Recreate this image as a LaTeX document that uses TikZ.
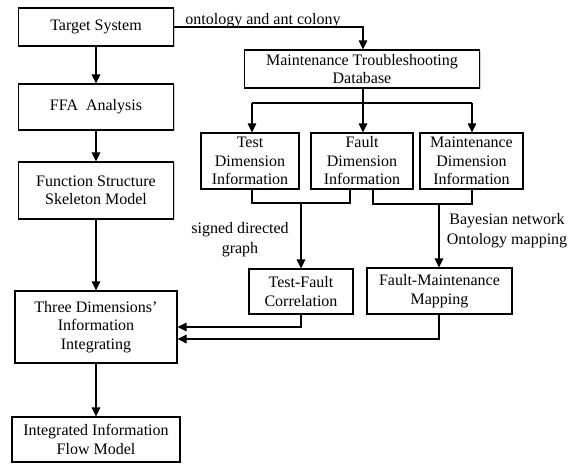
\documentclass[tikz,border=0pt]{standalone}
\usepackage{fontspec}
\setmainfont{Liberation Serif}
\usetikzlibrary{arrows.meta,shadows}

\tikzset{
  box/.style={draw, line width=1.1pt, fill=white, inner sep=0pt, align=center,
    font=\fontsize{16}{18.5}\selectfont,
    drop shadow={shadow xshift=1.2pt, shadow yshift=-1.2pt, fill=black!30, opacity=0.6}},
  link/.style={line width=1.1pt},
  flow/.style={link, -{Triangle[length=9pt,width=8.5pt]}},
  note/.style={align=center, inner sep=0pt, font=\fontsize{16}{20}\selectfont}
}

\begin{document}
\begin{tikzpicture}[x=1pt,y=-1pt]
  \useasboundingbox (0,0) rectangle (580,464);

  % left column: model construction
  \node[box, minimum width=155pt, minimum height=38pt] (tgt) at (96,27) {Target System};
  \node[box, minimum width=155pt, minimum height=46pt] (ffa) at (96,107) {FFA\ \ Analysis};
  \node[box, minimum width=155pt, minimum height=57pt] (fss) at (96,190.5) {Function Structure\\Skeleton Model};
  \node[box, minimum width=162pt, minimum height=72pt] (tdi) at (96,327) {Three Dimensions'\\Information\\Integrating};
  \node[box, minimum width=168pt, minimum height=45pt] (iifm) at (96,439.5) {Integrated Information\\Flow Model};

  % right side: troubleshooting database and its three dimensions
  \node[box, minimum width=235pt, minimum height=38pt] (db) at (362,69) {Maintenance Troubleshooting\\Database};
  \node[box, minimum width=98pt, minimum height=56pt] (test) at (250,161) {Test\\Dimension\\Information};
  \node[box, minimum width=102pt, minimum height=56pt] (fault) at (362,161) {Fault\\Dimension\\Information};
  \node[box, minimum width=103pt, minimum height=56pt] (maint) at (471.5,161) {Maintenance\\Dimension\\Information};
  \node[box, minimum width=104pt, minimum height=45pt] (tfc) at (301,291.5) {Test-Fault\\Correlation};
  \node[box, minimum width=145pt, minimum height=46pt] (fmm) at (439.5,291) {Fault-Maintenance\\Mapping};

  % method labels
  \node[note] (lab1) at (263,21) {ontology and ant colony};
  \node[note] (lab2) at (240,240) {signed directed\\graph};
  \node[note] (lab3) at (507,231) {Bayesian network\\Ontology mapping};

  % branching points
  \coordinate (split) at (363,103);
  \coordinate (tfj) at (301,203);
  \coordinate (fmj) at (439,204);

  % left column flow
  \draw[flow] (tgt) -- (ffa);
  \draw[flow] (ffa) -- (fss);
  \draw[flow] (fss) -- (tdi);
  \draw[flow] (tdi) -- (iifm);

  % target system to database
  \draw[flow] (tgt.east) -| (db.north -| split);

  % database split into three dimensions
  \draw[link] (db.south -| split) -- (split);
  \draw[link] (split -| 252,0) -- (split -| 472,0);
  \draw[flow] (split -| 252,0) -- (test.north -| 252,0);
  \draw[flow] (split) -- (fault.north -| split);
  \draw[flow] (split -| 472,0) -- (maint.north -| 472,0);

  % test + fault to correlation
  \draw[link] (test.south -| 252,0) |- (tfj) -| (fault.south -| 350,0);
  \draw[flow] (tfj) -- (tfc.north -| tfj);

  % fault + maintenance to mapping
  \draw[link] (fault.south -| 373,0) |- (fmj) -| (maint.south -| 472,0);
  \draw[flow] (fmj) -- (fmm.north -| fmj);

  % results back to integration
  \draw[flow] (tfc.south) |- (tdi.east |- 0,327);
  \draw[flow] (fmm.south -| fmj) |- (tdi.east |- 0,339);
\end{tikzpicture}
\end{document}
